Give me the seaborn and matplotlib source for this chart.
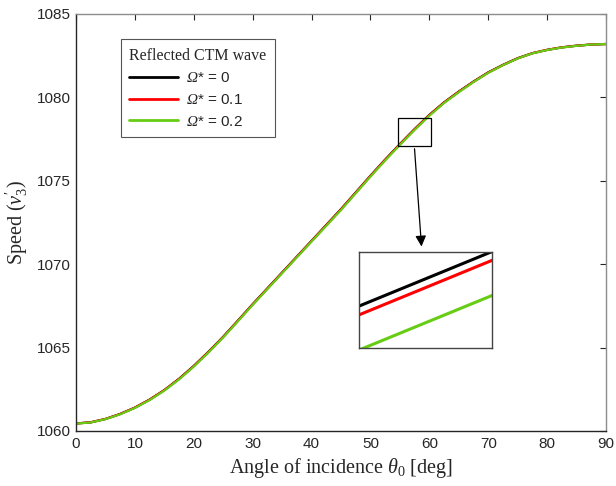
import matplotlib
matplotlib.use('Agg')
import matplotlib.pyplot as plt
from matplotlib.patches import Rectangle, FancyArrowPatch
import seaborn as sns
import pandas as pd

# values, every 2.5 deg
theta = [0, 2.5, 5, 7.5, 10, 12.5, 15, 17.5, 20, 22.5, 25, 27.5, 30, 32.5, 35, 37.5, 40, 42.5, 45,
         47.5, 50, 52.5, 55, 57.5, 60, 62.5, 65, 67.5, 70, 72.5, 75, 77.5, 80, 82.5, 85, 87.5, 90]
speed_om0 = [1060.45, 1060.52, 1060.72, 1061.02, 1061.40, 1061.88, 1062.45, 1063.13, 1063.90, 1064.75,
             1065.65, 1066.62, 1067.60, 1068.55, 1069.50, 1070.45, 1071.40, 1072.35, 1073.30, 1074.30,
             1075.30, 1076.27, 1077.20, 1078.10, 1078.95, 1079.70, 1080.35, 1080.95, 1081.50, 1081.95,
             1082.35, 1082.65, 1082.85, 1083.00, 1083.10, 1083.17, 1083.20]
speed_om1 = [1060.45, 1060.52, 1060.72, 1061.02, 1061.40, 1061.88, 1062.45, 1063.12, 1063.89, 1064.74,
             1065.64, 1066.61, 1067.59, 1068.54, 1069.49, 1070.44, 1071.39, 1072.34, 1073.29, 1074.29,
             1075.29, 1076.26, 1077.19, 1078.09, 1078.94, 1079.69, 1080.34, 1080.94, 1081.49, 1081.94,
             1082.34, 1082.65, 1082.85, 1083.00, 1083.10, 1083.17, 1083.20]
speed_om2 = [1060.44, 1060.51, 1060.71, 1061.00, 1061.38, 1061.85, 1062.42, 1063.09, 1063.86, 1064.71,
             1065.61, 1066.58, 1067.56, 1068.51, 1069.46, 1070.41, 1071.36, 1072.30, 1073.25, 1074.25,
             1075.25, 1076.22, 1077.15, 1078.05, 1078.90, 1079.66, 1080.31, 1080.92, 1081.47, 1081.93,
             1082.33, 1082.64, 1082.84, 1082.99, 1083.09, 1083.17, 1083.20]
# the Omega goes through mathsf, which is mapped to an italic serif below
series_labels = [r'$\mathsf{Ω}$* = 0', r'$\mathsf{Ω}$* = 0.1', r'$\mathsf{Ω}$* = 0.2']
series_colors = ['black', '#ff0000', '#66cc14']

df = pd.concat([
    pd.DataFrame({'theta': theta, 'speed': s, 'case': lab})
    for s, lab in zip([speed_om0, speed_om1, speed_om2], series_labels)
])
palette = dict(zip(series_labels, series_colors))

sns.set_style('white')
plt.rcParams['font.family'] = ['Liberation Sans', 'DejaVu Sans']
plt.rcParams['mathtext.fontset'] = 'custom'
plt.rcParams['mathtext.rm'] = 'Liberation Serif'
plt.rcParams['mathtext.it'] = 'Liberation Serif:italic'
plt.rcParams['mathtext.bf'] = 'Liberation Serif:bold'
plt.rcParams['mathtext.sf'] = 'Liberation Serif:italic'

fig = plt.figure(figsize=(6.16, 4.86), dpi=100)
ax = fig.add_axes([0.1234, 0.1132, 0.8604, 0.858])

sns.lineplot(data=df, x='theta', y='speed', hue='case', palette=palette, linewidth=1.6, ax=ax)

ax.set_xlim(0, 90)
ax.set_ylim(1060, 1085)
ax.set_xticks(range(0, 91, 10))
ax.set_yticks(range(1060, 1086, 5))
ax.tick_params(direction='in', top=True, right=True, length=4, width=0.8,
               labelsize=11, colors='#262626', pad=4)
for side in ['left', 'bottom']:
    ax.spines[side].set_color('#262626')
for side in ['top', 'right']:
    ax.spines[side].set_color('#8c8c8c')
for sp in ax.spines.values():
    sp.set_linewidth(1.0)

ax.set_xlabel(r'Angle of incidence $\theta_0$ [deg]', family='Liberation Serif', fontsize=14.5, labelpad=4)
ax.set_ylabel(r"Speed $(v_3')$", family='Liberation Serif', fontsize=14.5, labelpad=5)

leg = ax.legend(title='Reflected CTM wave', loc='upper left', bbox_to_anchor=(0.0843, 0.939),
                borderaxespad=0, fontsize=11, handlelength=3.2, handletextpad=0.5,
                labelspacing=0.5, borderpad=0.55, fancybox=False, framealpha=1,
                edgecolor='#555555', alignment='left')
leg.get_title().set_fontfamily('Liberation Serif')
leg.get_title().set_fontsize(11.5)
leg.get_frame().set_linewidth(0.8)
for line in leg.get_lines():
    line.set_linewidth(2)

# zoom box on the main axes
ax.add_patch(Rectangle((54.7, 1077.07), 5.5, 1.71, fill=False, edgecolor='black', linewidth=0.9, zorder=5))

# inset axes
axins = fig.add_axes([0.5833, 0.2833, 0.215, 0.1988])
sns.lineplot(data=df, x='theta', y='speed', hue='case', palette=palette, linewidth=2.2,
             ax=axins, legend=False)
axins.set_xlim(55.5, 55.6717)
axins.set_ylim(1077.3318, 1077.4418)
axins.set_xticks([])
axins.set_yticks([])
axins.set_xlabel('')
axins.set_ylabel('')
for sp in axins.spines.values():
    sp.set_color('#444444')
    sp.set_linewidth(1.0)

arrow = FancyArrowPatch((0.6726, 0.6996), (0.6846, 0.487), transform=fig.transFigure,
                        arrowstyle='-|>', mutation_scale=16, color='black', linewidth=0.9)
fig.patches.append(arrow)

plt.savefig('out.png', dpi=100)
plt.close()
